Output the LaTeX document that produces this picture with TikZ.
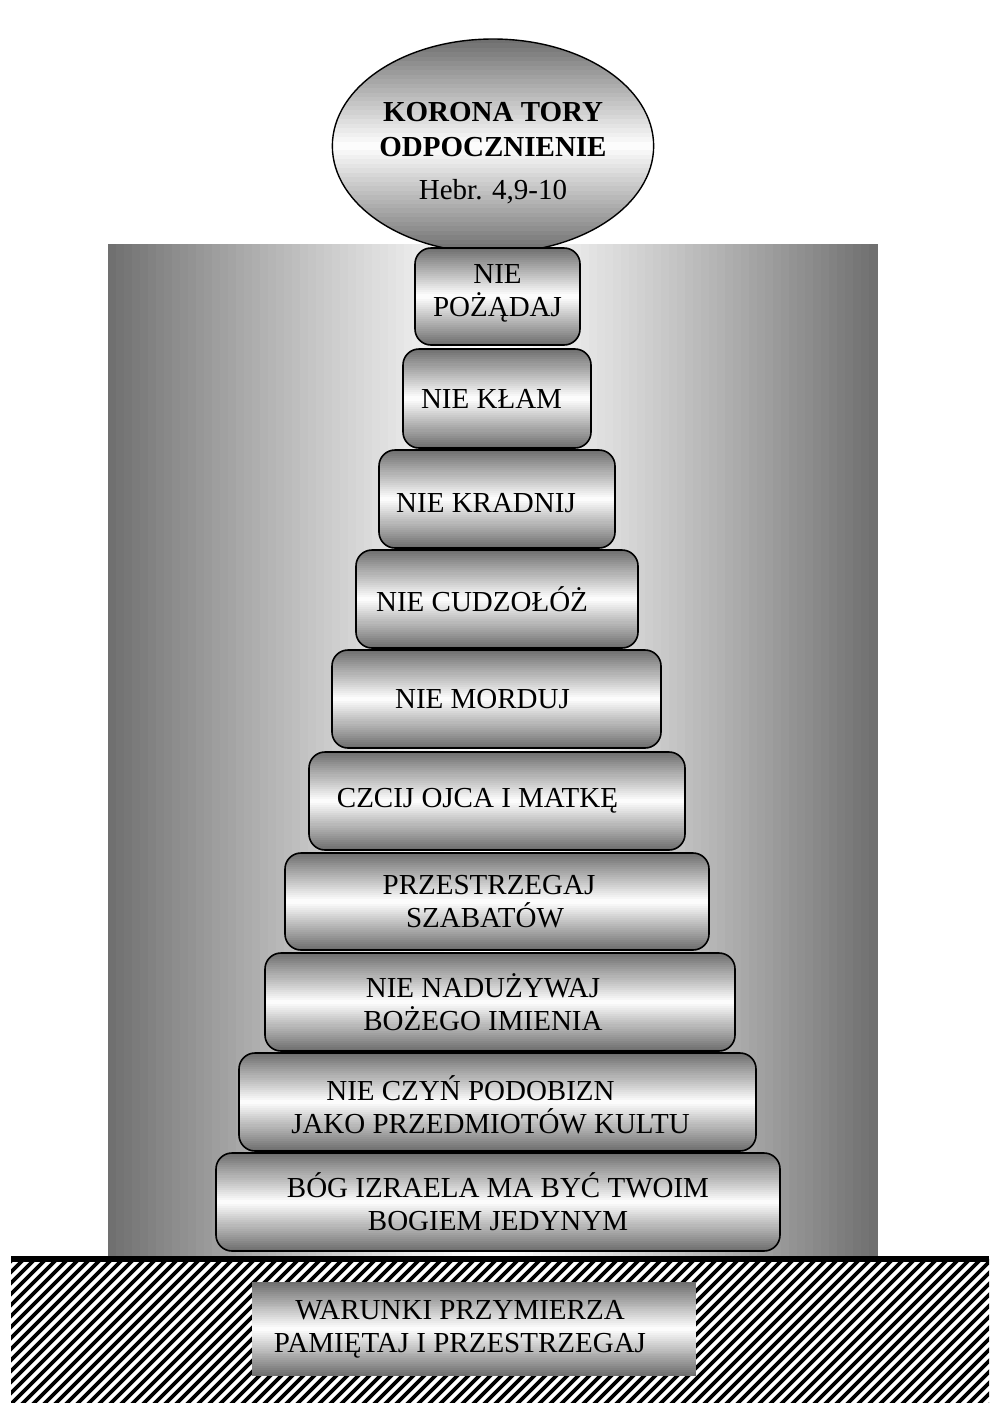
\documentclass[tikz,border=0pt]{standalone}
\usepackage{fontspec}
\setmainfont{Liberation Serif}
\usetikzlibrary{shapes.geometric,calc}

\tikzset{
  metal/.style={path picture={
    \foreach \k in {0,...,47}{
      \pgfmathsetmacro\shadeval{56*abs(\k-23.5)/23.5}
      \pgfmathsetmacro\ka{\k/48}
      \pgfmathsetmacro\kb{(\k+1.1)/48}
      \fill [sharp corners, black!\shadeval]
        ($(path picture bounding box.north west)!\ka!(path picture bounding box.south west)$) rectangle
        ($(path picture bounding box.north east)!\kb!(path picture bounding box.south east)$) ;
    }}},
  tablet/.style={draw, line width=1.6, rounded corners=16, inner sep=0pt, metal,
    align=center, font=\fontsize{29}{33}\selectfont},
  crown/.style={draw, ellipse, line width=1.4, inner sep=0pt, metal,
    align=center, font=\fontsize{29}{35}\selectfont},
  footing/.style={inner sep=0pt, metal, align=center, font=\fontsize{29}{33}\selectfont},
}

\begin{document}
\begin{tikzpicture}[x=1pt,y=1pt,yscale=-1]
\useasboundingbox (0,0) rectangle (989,1403);

%Shaded backdrop
\foreach \k in {0,...,95}{
  \pgfmathsetmacro\shadeval{56*(abs(\k-47.5)/47.5)^1.2}
  \fill [black!\shadeval] (108+\k*8.01,244) rectangle (108+\k*8.01+8.6,1256) ;
}

%Hatched ground
\begin{scope}
\clip (11,1258) rectangle (989,1403) ;
\fill [white] (11,1258) rectangle (989,1403) ;
\foreach \hx in {-160,-149,...,1000}
  \draw [line width=3.6] (\hx,1410) -- (\hx+160,1250) ;
\end{scope}
%Ground line
\draw [line width=6] (11,1259) -- (989,1259) ;

%Crown
\node [crown, minimum width=273, minimum height=214] (korona) at (493,146)
  {\rule{0pt}{34pt}\textbf{KORONA TORY}\\\textbf{ODPOCZNIENIE}\\[8pt]Hebr. 4,9-10};

%Tablets, top to bottom
\node [tablet, minimum width=165, minimum height=97] (t10) at (497.5,296.5) {NIE\\POŻĄDAJ\rule[-12pt]{0pt}{1pt}};
\node [tablet, minimum width=188, minimum height=99] (t9) at (497,398.5) {NIE KŁAM\hspace*{11pt}};
\node [tablet, minimum width=236, minimum height=98] (t8) at (497,499) {\rule{0pt}{28pt}NIE KRADNIJ\hspace*{22pt}};
\node [tablet, minimum width=282, minimum height=98] (t7) at (497,599) {NIE CUDZOŁÓŻ\hspace*{30pt}};
\node [tablet, minimum width=329, minimum height=98] (t6) at (496.5,699) {NIE MORDUJ\hspace*{28pt}};
\node [tablet, minimum width=376, minimum height=98] (t5) at (497,801) {CZCIJ OJCA I MATKĘ\hspace*{39pt}};
\node [tablet, minimum width=424, minimum height=97] (t4) at (497,901.5) {PRZESTRZEGAJ\hspace*{16pt}\\SZABATÓW\hspace*{24pt}};
\node [tablet, minimum width=470, minimum height=98] (t3) at (500,1002) {NIE NADUŻYWAJ\hspace*{34pt}\\BOŻEGO IMIENIA\hspace*{34pt}};
\node [tablet, minimum width=517, minimum height=98] (t2) at (497.5,1102) {\rule{0pt}{30pt}NIE CZYŃ PODOBIZN\hspace*{54pt}\\JAKO PRZEDMIOTÓW KULTU\hspace*{14pt}};
\node [tablet, minimum width=564, minimum height=98] (t1) at (498,1202) {BÓG IZRAELA MA BYĆ TWOIM\\BOGIEM JEDYNYM};

%Covenant base
\node [footing, minimum width=444, minimum height=94] (warunki) at (474,1329)
  {WARUNKI PRZYMIERZA\hspace*{28pt}\\PAMIĘTAJ I PRZESTRZEGAJ\hspace*{28pt}};

\end{tikzpicture}
\end{document}
